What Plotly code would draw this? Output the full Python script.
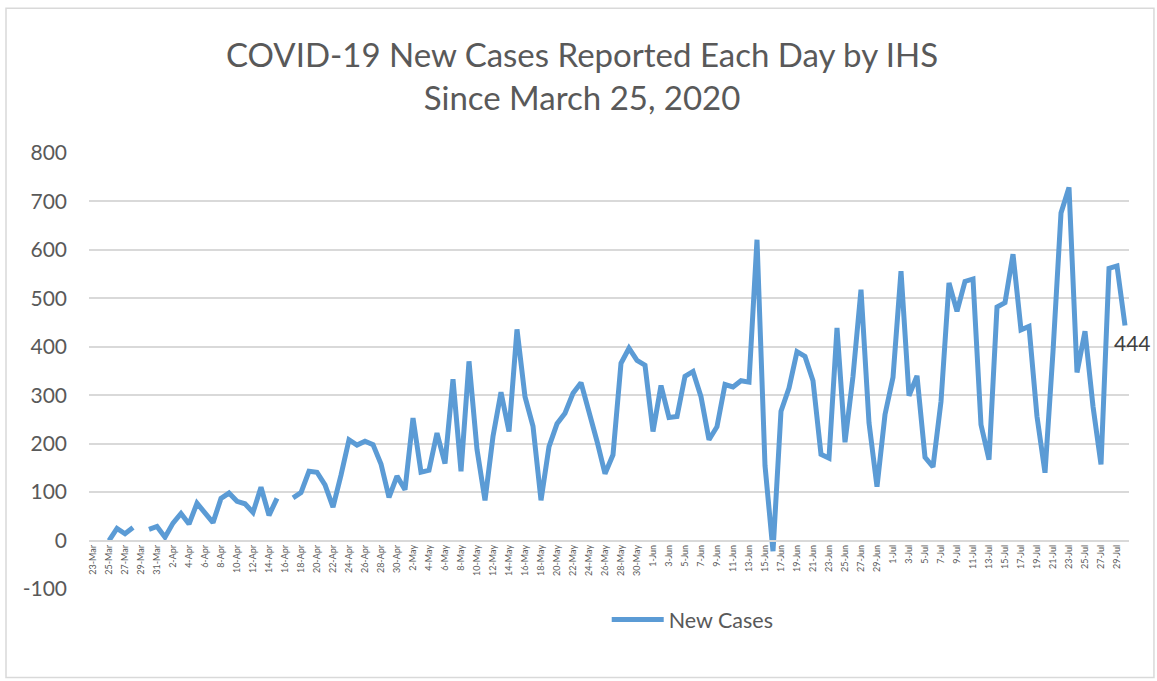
import pandas as pd
import plotly.graph_objects as go

# Category labels: every day from 23-Mar to 30-Jul 2020
dates = [f"{d.day}-{d.strftime('%b')}" for d in pd.date_range("2020-03-23", "2020-07-30")]

# New cases reported each day (None = no report)
new_cases_mar = [None, None, 0, 25, 14, 27, None, 23, 29]
new_cases_apr = [7, 36, 56, 34, 77, 57, 37, 87, 98, 81, 76, 58, 110, 52, 87,
                 None, 88, 99, 143, 141, 115, 69, 135, 208, 197, 205, 198, 158, 89, 133]
new_cases_may = [105, 253, 141, 145, 222, 159, 333, 143, 370, 188, 83, 215, 306, 225, 436,
                 297, 236, 83, 194, 241, 263, 304, 326, 270, 205, 138, 177, 366, 397, 372, 362]
new_cases_jun = [225, 320, 254, 256, 339, 349, 297, 208, 235, 322, 317, 330, 327, 621, 155,
                 -22, 267, 315, 390, 380, 330, 178, 170, 439, 203, 339, 518, 243, 111, 260]
new_cases_jul = [337, 556, 299, 340, 172, 152, 287, 532, 473, 535, 540, 239, 167, 482, 491,
                 591, 435, 442, 256, 140, 390, 676, 729, 347, 432, 277, 157, 562, 567, 444]
new_cases = new_cases_mar + new_cases_apr + new_cases_may + new_cases_jun + new_cases_jul

tick_labels = dates[::2]
y_ticks = [-100, 0, 100, 200, 300, 400, 500, 600, 700, 800]
y_tick_text = ["-100", "0", "100", "200", "300", "400", "500", "600", "700", "800"]
series_name = "New Cases"
title_lines = ["COVID-19 New Cases Reported Each Day by IHS", "Since March 25, 2020"]

FONT = "Lato"
GREY = "#595959"

fig = go.Figure()
fig.add_trace(go.Scatter(
    x=dates, y=new_cases, mode="lines", name=series_name,
    line=dict(color="#5B9BD5", width=5), connectgaps=False,
))

# data label on the last point
fig.add_annotation(
    x=dates[-1], y=new_cases[-1], text=str(new_cases[-1]), showarrow=False,
    xanchor="left", yanchor="middle", xshift=-13, yshift=-17,
    font=dict(family=FONT, size=21, color="#404040"),
)

# title
fig.add_annotation(
    xref="paper", yref="paper", x=0.474, y=1.178, xanchor="center", yanchor="middle",
    text="<br>".join(title_lines), showarrow=False,
    font=dict(family=FONT, size=33, color=GREY),
)

# chart border
fig.add_shape(type="rect", xref="paper", yref="paper",
              x0=-0.0798, x1=1.024, y0=-0.2027, y1=1.332,
              line=dict(color="#D9D9D9", width=1.5), fillcolor="rgba(0,0,0,0)", layer="below")

fig.update_layout(
    width=1157, height=681,
    margin=dict(l=89, r=28, t=153, b=91.5, pad=0),
    paper_bgcolor="white", plot_bgcolor="white",
    font=dict(family=FONT, color=GREY),
    showlegend=True,
    legend=dict(orientation="h", x=0.5805, xanchor="center", y=-0.07, yanchor="middle",
                font=dict(family=FONT, size=21.5, color=GREY), itemwidth=52,
                bgcolor="rgba(0,0,0,0)"),
    xaxis=dict(
        type="category", range=[-0.5, len(dates) - 0.5],
        tickmode="array", tickvals=tick_labels, ticktext=tick_labels,
        tickangle=-90, tickfont=dict(family=FONT, size=9, color=GREY),
        showgrid=False, zeroline=False, showline=True, linecolor="#D9D9D9", linewidth=1.5,
        anchor="free", position=1 / 9, ticks="",
    ),
    yaxis=dict(
        range=[-100, 800], tickmode="array", tickvals=y_ticks, ticktext=y_tick_text,
        gridcolor="#D9D9D9", gridwidth=1.5, zeroline=False, showline=False,
        tickfont=dict(family=FONT, size=21, color=GREY), ticks="",
        ticklabelstandoff=21,
    ),
)

fig.write_html("out.html", config={"displayModeBar": False},
               post_script="document.body.style.margin='0';")
